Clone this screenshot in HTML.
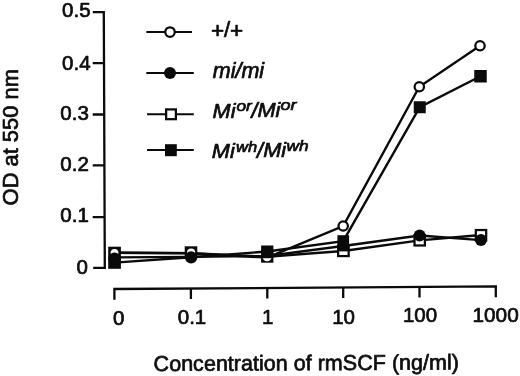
<!DOCTYPE html>
<html><head><meta charset="utf-8"><title>OD at 550 nm vs rmSCF</title>
<style>
html,body{margin:0;padding:0;background:#fff;}
body{width:520px;height:376px;overflow:hidden;}
svg{display:block;}
text{font-family:"Liberation Sans",sans-serif;fill:#0d0d0d;stroke:#0d0d0d;stroke-width:0.7px;stroke-linejoin:round;}
.t{font-size:20.5px;}
.i{font-style:italic;font-size:21.5px;stroke-width:0.7px;}
.s{font-style:italic;font-size:15px;stroke-width:0.7px;}
.ln{stroke:#0a0a0a;stroke-width:2.4;fill:none;stroke-linecap:butt;stroke-linejoin:miter;}
.ax{stroke:#0a0a0a;stroke-width:2.3;fill:none;}
.oc{fill:#fff;stroke:#0a0a0a;stroke-width:2.25;}
.fc{fill:#0a0a0a;stroke:none;}
</style></head><body>
<svg width="520" height="376" viewBox="0 0 520 376">
<rect width="520" height="376" fill="#fff"/>

<!-- y axis -->
<path class="ax" d="M92.8 12.1H103.8L104.8 267.9H93.2"/>
<path class="ax" d="M92.7 63.2H104M92.7 114.5H104.2M92.7 165.4H104.4M92.7 217.1H104.6"/>
<!-- x axis -->
<path class="ax" d="M114.4 299.7V289L495.8 286.4V297.3"/>
<path class="ax" d="M190.9 288.5V299M267.3 288V298.4M343.2 287.5V298M419.5 287V297.6"/>

<!-- y tick labels -->
<text class="t" x="90.6" y="17" text-anchor="end">0.5</text>
<text class="t" x="90.6" y="70" text-anchor="end">0.4</text>
<text class="t" x="88.8" y="119.6" text-anchor="end">0.3</text>
<text class="t" x="88.8" y="171" text-anchor="end">0.2</text>
<text class="t" x="88.8" y="222.2" text-anchor="end">0.1</text>
<text class="t" x="87.8" y="274.2" text-anchor="end">0</text>

<!-- x tick labels -->
<text class="t" x="118.8" y="324.6" text-anchor="middle">0</text>
<text class="t" x="192" y="324.4" text-anchor="middle">0.1</text>
<text class="t" x="267.6" y="324.3" text-anchor="middle">1</text>
<text class="t" x="343.6" y="323.7" text-anchor="middle">10</text>
<text class="t" x="420" y="322.4" text-anchor="middle">100</text>
<text class="t" style="font-size:20.8px" x="495.6" y="322" text-anchor="middle">1000</text>

<!-- axis titles -->
<text class="t" style="font-size:21.55px" x="153.6" y="371" transform="rotate(-0.27 154 370.5)">Concentration of rmSCF (ng/ml)</text>
<text class="t" style="font-size:21.9px" transform="translate(17.8 205.4) rotate(-90)">OD at 550 nm</text>

<!-- legend -->
<path class="ln" style="stroke-width:2.1" d="M146.3 32H192M146.3 73H193.8M147 114.3H193.8M147 150H193.8"/>
<circle class="oc" cx="170" cy="32" r="4.75"/>
<circle class="fc" cx="170" cy="73" r="6"/>
<rect class="oc" x="166.125" y="109.425" width="9.75" height="9.75"/>
<rect class="fc" x="165" y="144.2" width="11.8" height="12"/>
<text class="t" style="font-size:22.5px" x="211" y="38">+</text><text class="t" style="font-size:22.3px" x="224.1" y="36.8">/</text><text class="t" style="font-size:22.5px" x="230" y="37.8">+</text>
<text class="i" x="212.8" y="77.8">mi/mi</text>
<text class="i" style="font-size:20.3px" transform="translate(212.6 117.6) scale(1.07 1)">Mi</text><text class="s" style="font-size:15px" transform="translate(236.4 110.9) scale(1.15 1)">or</text><text class="i" style="font-size:21.5px" transform="translate(251.6 117.8) scale(1.0 1)">/</text><text class="i" style="font-size:20.3px" transform="translate(257.4 117.2) scale(1.07 1)">Mi</text><text class="s" style="font-size:15px" transform="translate(280.6 110.0) scale(1.2 1)">or</text>
<text class="i" style="font-size:20.3px" transform="translate(211.8 157.8) scale(1.07 1)">Mi</text><text class="s" style="font-size:15px" transform="translate(236.0 151.6) scale(1.1 1)">wh</text><text class="i" style="font-size:21.5px" transform="translate(257 157.8) scale(1.0 1)">/</text><text class="i" style="font-size:20.3px" transform="translate(263.2 157.2) scale(1.07 1)">Mi</text><text class="s" style="font-size:15px" transform="translate(286.6 150.8) scale(1.15 1)">wh</text>

<!-- data lines -->
<!-- open square Mi-or -->
<polyline class="ln" points="114.5,252.8 191,253.1 267.2,256.7 343.2,251 419.7,240.4 481,235"/>
<!-- open circle +/+ -->
<polyline class="ln" points="114.5,252.8 191,253.2 267.2,257.6 343.2,226 419.3,86.75 480,45.75"/>
<!-- filled circle mi/mi -->
<polyline class="ln" points="114.5,257.4 191,256.9 267.2,256 343.2,246 419.6,235.5 481,240.1"/>
<!-- filled square Mi-wh -->
<polyline class="ln" points="114.5,262.6 191,257.3 267.2,251.5 343.2,241.2 419.75,107.25 480.5,76.25"/>

<!-- markers: open squares -->
<g>
<rect class="fc" x="108.2" y="246.7" width="12.7" height="22.1"/>
<rect class="fc" x="184.7" y="246.3" width="12.6" height="12.3"/>
<rect class="fc" x="261.1" y="250" width="12.3" height="12.7"/>
<rect class="oc" x="338.125" y="245.525" width="10.55" height="10.55"/>
<rect class="oc" x="414.525" y="235.125" width="10.35" height="10.35"/>
<rect class="oc" x="475.825" y="230.025" width="10.35" height="10.35"/>
</g>
<!-- open circles -->
<g>
<circle cx="114.5" cy="252.8" r="3.9" fill="#fff"/>
<circle cx="191.1" cy="252.6" r="4.1" fill="#fff"/>
<circle cx="267.1" cy="256.7" r="4.6" fill="#fff"/>
<circle class="oc" cx="343.2" cy="226" r="4.7"/>
<circle class="oc" cx="419.3" cy="86.75" r="4.7"/>
<circle class="oc" cx="480" cy="45.75" r="4.7"/>
</g>
<!-- filled circles -->
<g>
<circle class="fc" cx="114.5" cy="258.9" r="6.3"/>
<circle class="fc" cx="191.1" cy="257.4" r="6.1"/>


<circle class="fc" cx="419.6" cy="235.5" r="6"/>
<circle class="fc" cx="481" cy="240.1" r="6"/>
</g>
<!-- filled squares -->
<g>


<rect class="fc" x="261.1" y="245.5" width="12.3" height="12.7"/>
<rect class="fc" x="337.4" y="235.2" width="11.7" height="16.2"/>
<rect class="fc" x="413.75" y="101.25" width="12" height="12"/>
<rect class="fc" x="474.25" y="70" width="12.5" height="12.5"/>
</g>
</svg>
</body></html>
